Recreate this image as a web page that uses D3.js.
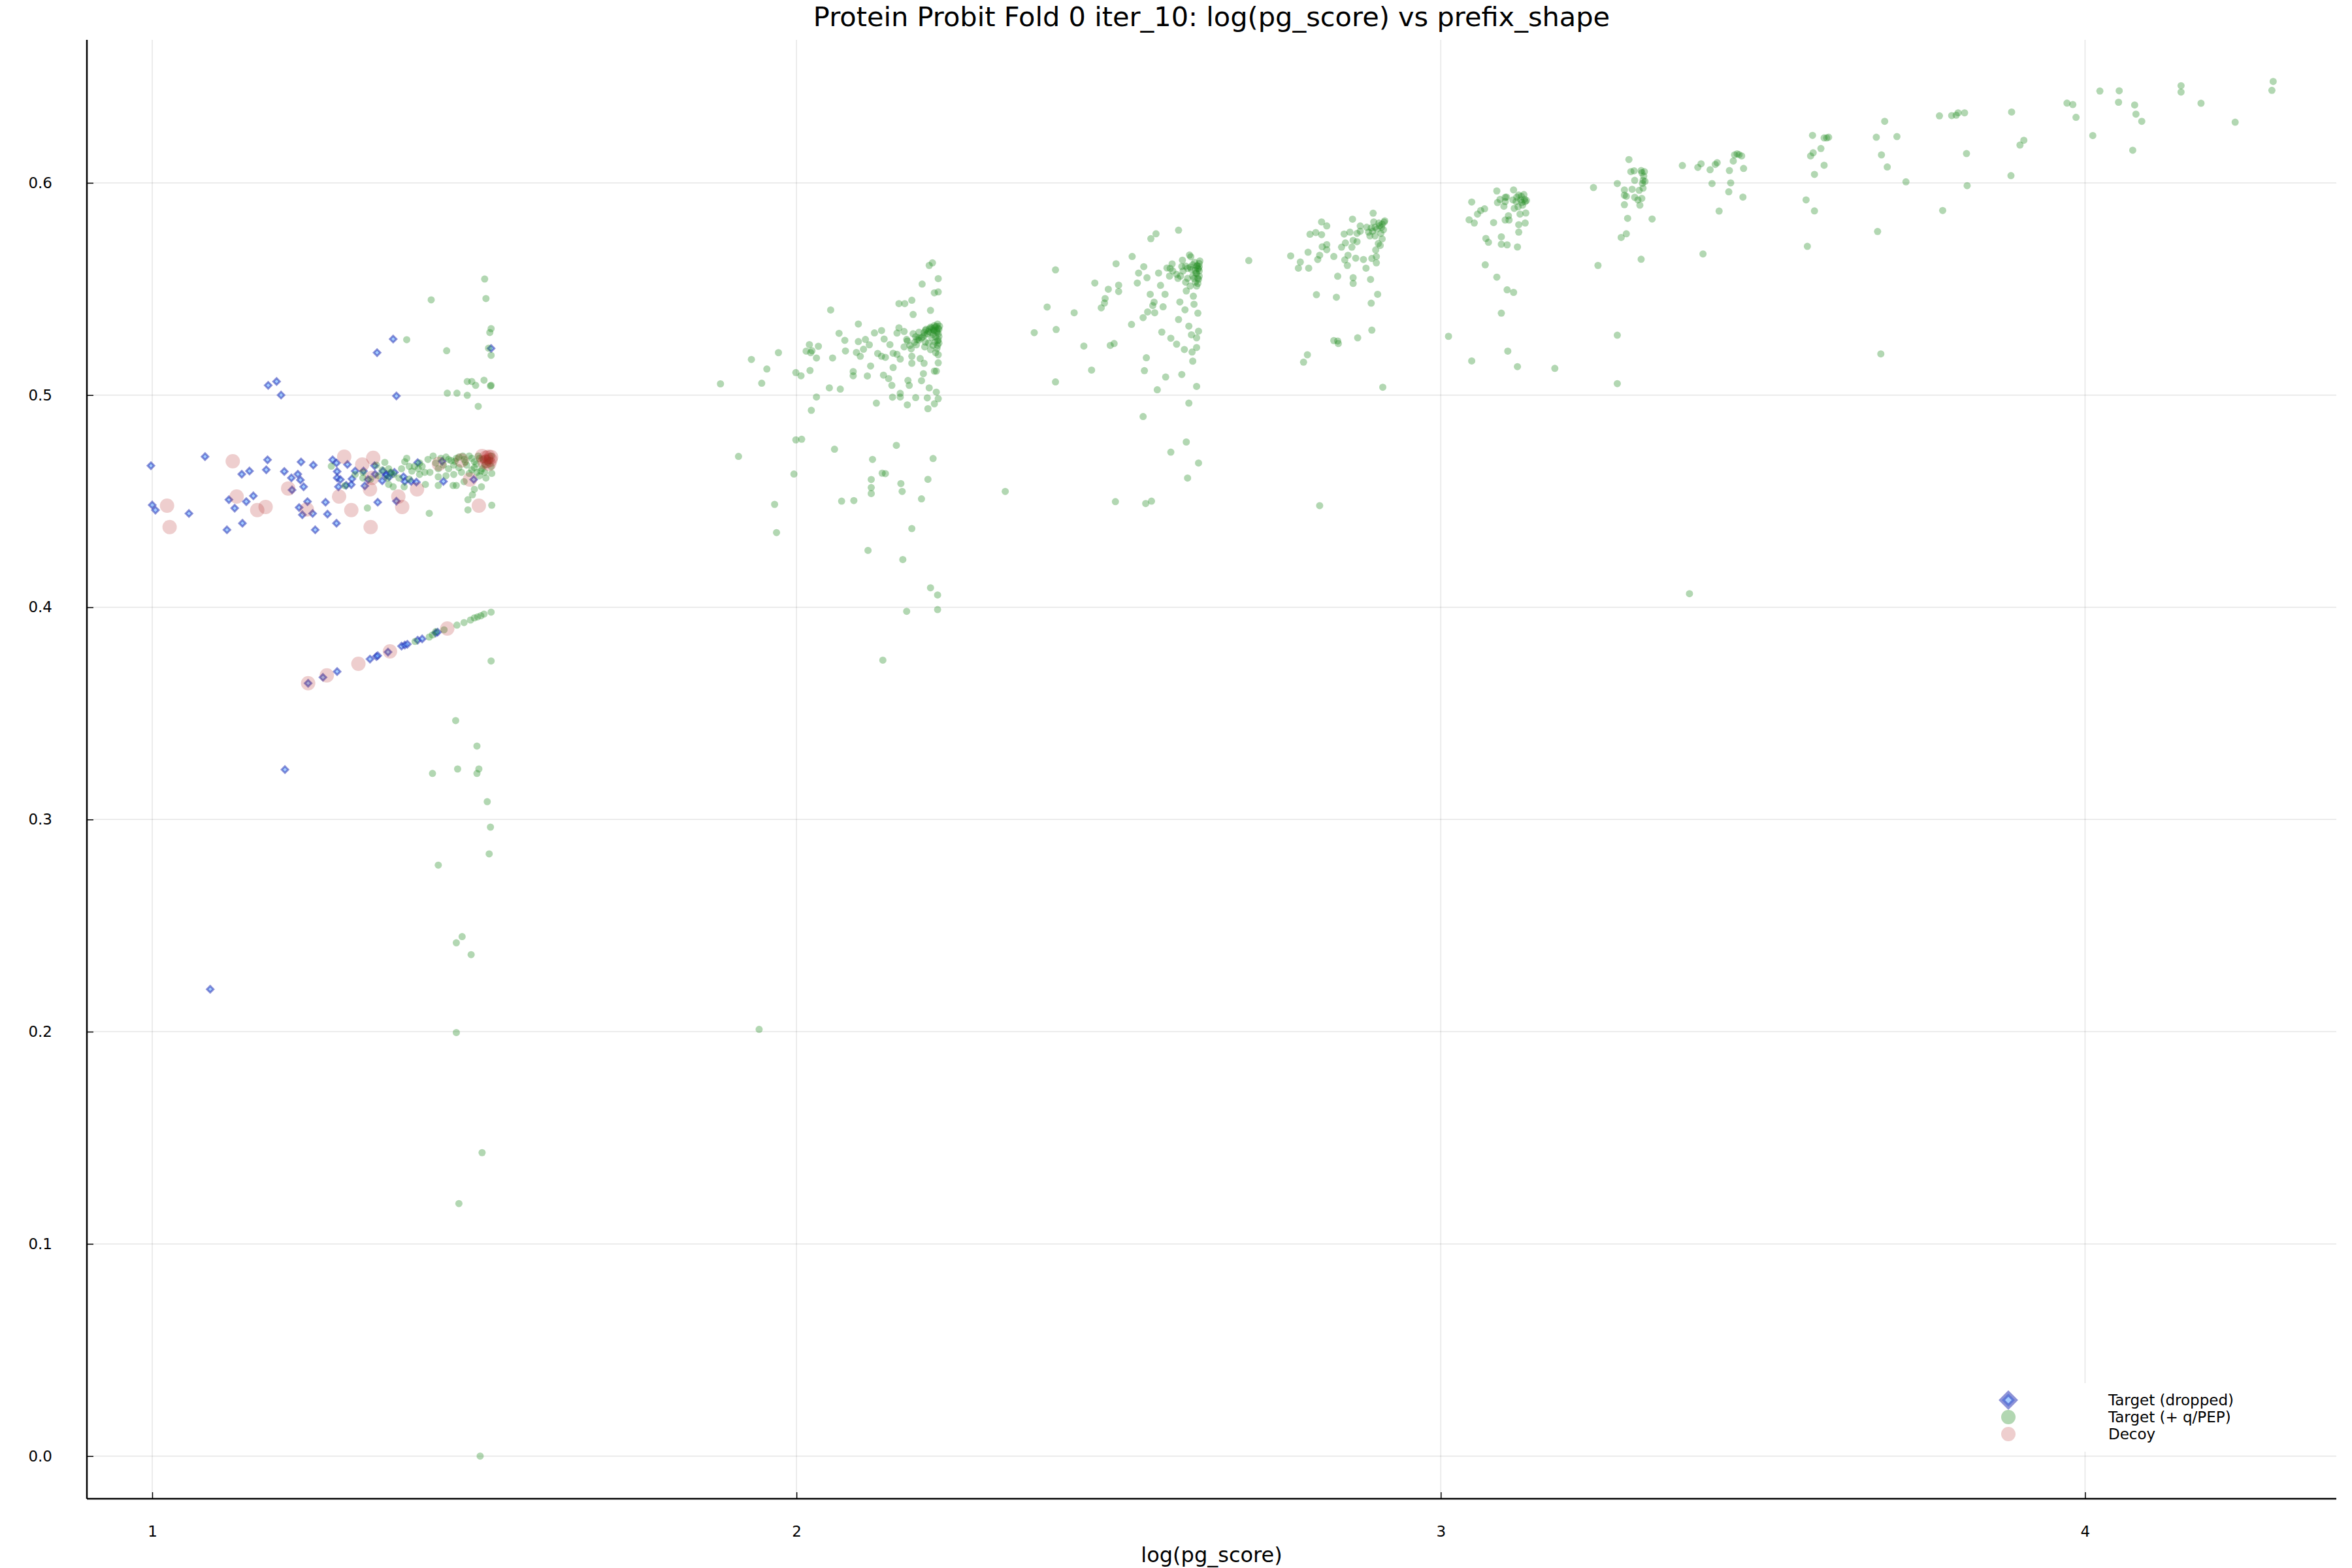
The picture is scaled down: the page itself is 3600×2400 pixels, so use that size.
<!DOCTYPE html>
<html><head><meta charset="utf-8">
<script src="https://cdn.jsdelivr.net/npm/d3@7"></script>
<style>html,body{margin:0;padding:0;background:#fff}svg{display:block}</style>
</head><body>
<script>
const titleText = "Protein Probit Fold 0 iter_10: log(pg_score) vs prefix_shape";
const xLabel = "log(pg_score)";
const xTicks = [1, 2, 3, 4];
const yTicks = [0.0, 0.1, 0.2, 0.3, 0.4, 0.5, 0.6];
const seriesNames = ["Target (dropped)", "Target (+ q/PEP)", "Decoy"];

// Target (dropped): [log(pg_score), prefix_shape]
const dropped = [
[0.998,0.4667],[1.082,0.471],[1.18,0.5046],[1.193,0.5064],[1.20,0.500],[1.349,0.520],[1.374,0.5264],[1.379,0.4996],[1.526,0.522],
[1.139,0.4627],[1.151,0.4642],[1.179,0.4695],[1.177,0.4648],[1.205,0.464],[1.216,0.461],[1.226,0.4627],[1.23,0.46],[1.231,0.4685],
[1.235,0.4568],[1.25,0.467],[1.217,0.4553],[1.28,0.4695],[1.286,0.468],[1.303,0.4673],[1.287,0.464],[1.287,0.461],[1.292,0.4602],
[1.31,0.4605],[1.289,0.4568],[1.301,0.4575],[1.309,0.4578],[1.315,0.4642],[1.328,0.4642],[1.33,0.4572],[1.335,0.4602],[1.345,0.4667],
[1.346,0.4627],[1.358,0.4642],[1.357,0.4596],[1.363,0.4621],[1.376,0.4636],[1.39,0.4615],[1.392,0.4593],[1.402,0.4593],[1.41,0.459],
[1.412,0.4682],[1.452,0.4593],[1.499,0.4602],[1.45,0.4688],[1.364,0.4625],[1.368,0.4615],[1.37,0.4632],
[1.0,0.4482],[1.005,0.4458],[1.057,0.4442],[1.119,0.4507],[1.128,0.4467],[1.146,0.4498],[1.157,0.4525],[1.116,0.4365],[1.14,0.4396],
[1.228,0.447],[1.233,0.4436],[1.241,0.4498],[1.249,0.4442],[1.253,0.4365],[1.269,0.4495],[1.272,0.4439],[1.286,0.4396],[1.35,0.4495],[1.379,0.45],
[1.242,0.3642],[1.265,0.367],[1.287,0.3697],[1.338,0.3756],[1.348,0.3768],[1.35,0.3772],[1.366,0.3789],[1.387,0.3817],[1.392,0.3822],
[1.396,0.3826],[1.412,0.3845],[1.419,0.3851],[1.44,0.3879],[1.443,0.3883],
[1.09,0.22],[1.206,0.3235]
];

// Target (+ q/PEP)
const target = [
[1.516,0.5547],[1.518,0.5455],[1.433,0.5449],[1.526,0.5313],[1.524,0.5295],[1.395,0.5261],[1.522,0.5221],[1.526,0.5187],[1.457,0.5209],
[1.489,0.5064],[1.496,0.5064],[1.502,0.5046],[1.515,0.507],[1.526,0.5046],[1.525,0.5043],[1.458,0.5009],[1.473,0.5009],[1.489,0.4999],[1.506,0.4947],
[1.278,0.4665],[1.334,0.4468],[1.361,0.4683],[1.348,0.467],[1.367,0.4653],[1.387,0.4653],[1.395,0.4702],[1.392,0.4686],[1.403,0.4642],
[1.407,0.4664],[1.413,0.4653],[1.419,0.4664],[1.428,0.4697],[1.436,0.4713],[1.44,0.468],[1.448,0.4702],[1.456,0.4708],[1.464,0.4691],
[1.468,0.467],[1.476,0.4708],[1.484,0.4697],[1.488,0.467],[1.492,0.4713],[1.5,0.4686],[1.508,0.4702],[1.516,0.467],[1.524,0.4691],
[1.526,0.4664],[1.527,0.4631],[1.516,0.4636],[1.504,0.4636],[1.492,0.4631],[1.48,0.4636],[1.468,0.4626],[1.456,0.462],[1.444,0.4615],
[1.431,0.4636],[1.423,0.4636],[1.415,0.4626],[1.399,0.4604],[1.383,0.4609],[1.375,0.4626],[1.365,0.4609],[1.351,0.462],[1.339,0.4604],
[1.327,0.4609],[1.315,0.4626],[1.299,0.4573],[1.367,0.4579],[1.374,0.4568],[1.391,0.4568],[1.424,0.4579],[1.444,0.4574],[1.467,0.4574],
[1.472,0.4574],[1.49,0.4507],[1.497,0.453],[1.5,0.4556],[1.511,0.4568],[1.43,0.4443],[1.49,0.4459],[1.527,0.4481],[1.518,0.4609],
[1.508,0.462],[1.484,0.4592],[1.46,0.4653],[1.452,0.467],[1.444,0.4653],[1.476,0.4658],[1.5,0.4658],[1.512,0.4653],[1.52,0.4702],
[1.526,0.4713],[1.415,0.468],[1.399,0.4664],[1.371,0.4636],[1.357,0.4647],[1.327,0.4636],[1.46,0.4697],[1.472,0.4702],[1.482,0.4713],
[1.496,0.4702],[1.506,0.4713],[1.514,0.4698],[1.521,0.4684],[1.503,0.4675],[1.486,0.4684],[1.47,0.4688],[1.51,0.4642],[1.496,0.4648],
[1.408,0.3839],[1.43,0.386],[1.435,0.387],[1.44,0.3885],[1.453,0.3894],[1.473,0.3916],[1.484,0.3928],[1.494,0.394],[1.5,0.395],
[1.505,0.3955],[1.51,0.396],[1.515,0.3968],[1.526,0.3977],
[1.526,0.3747],[1.471,0.3466],[1.504,0.3346],[1.474,0.3238],[1.435,0.3217],[1.507,0.3238],[1.504,0.3217],[1.52,0.3084],[1.525,0.2964],
[1.523,0.2838],[1.444,0.2785],[1.472,0.2419],[1.481,0.2448],[1.495,0.2363],[1.472,0.1996],[1.512,0.143],[1.476,0.119],[1.509,0.0],
[1.882,0.5053],[1.93,0.5168],[1.946,0.5056],[1.954,0.5123],[1.972,0.52],[1.999,0.5106],[2.007,0.5091],[2.015,0.5207],[2.02,0.5238],
[2.022,0.52],[2.024,0.5209],[2.021,0.5116],[2.031,0.5175],[2.034,0.523],[2.053,0.5401],[2.056,0.5175],[2.066,0.5291],[2.075,0.5258],
[2.076,0.5208],[2.051,0.5034],[2.068,0.5028],[2.031,0.4991],[2.023,0.4928],[2.088,0.5111],[2.088,0.5091],[2.093,0.5201],[2.099,0.5183],
[2.096,0.5252],[2.096,0.5335],[2.107,0.5262],[2.104,0.5216],[2.11,0.509],[2.113,0.5237],[2.115,0.5137],[2.121,0.5293],[2.124,0.4962],
[2.126,0.5196],[2.132,0.5304],[2.132,0.5183],[2.136,0.5264],[2.138,0.5178],[2.135,0.5094],[2.143,0.5078],[2.145,0.5238],[2.148,0.5046],
[2.15,0.513],[2.149,0.499],[2.15,0.5197],[2.156,0.5192],[2.156,0.5292],[2.159,0.5317],[2.159,0.5431],[2.161,0.517],[2.161,0.5008],
[2.161,0.4991],[2.167,0.53],[2.168,0.5431],[2.172,0.5255],[2.173,0.5069],[2.172,0.4954],[2.175,0.5046],[2.178,0.5218],[2.179,0.5447],
[2.181,0.538],[2.181,0.5289],[2.179,0.5183],[2.179,0.515],[2.185,0.4988],[2.186,0.5237],[2.19,0.527],[2.192,0.5172],[2.194,0.5068],
[2.195,0.5523],[2.197,0.5101],[2.198,0.515],[2.199,0.5227],[2.203,0.4987],[2.204,0.4936],[2.206,0.5034],[2.206,0.5611],[2.208,0.5399],
[2.211,0.5623],[2.214,0.5482],[2.214,0.5113],[2.214,0.4959],[2.217,0.5113],[2.217,0.5014],[2.22,0.5549],[2.22,0.5486],[2.22,0.5152],
[2.22,0.4983],[2.216,0.52],[2.22,0.519],[2.219,0.5234],[2.218,0.5296],[2.221,0.531],[2.217,0.5324],[2.212,0.531],[2.208,0.5296],
[2.203,0.5289],[2.199,0.5282],[2.194,0.5269],[2.187,0.5262],[2.183,0.5248],[2.176,0.5234],[2.171,0.5262],[2.167,0.5227],[2.19,0.5296],
[2.201,0.531],[2.21,0.5317],[2.214,0.5303],[2.221,0.5276],[2.219,0.5255],[2.212,0.5234],[2.208,0.5214],
[2.215,0.532],[2.218,0.5305],[2.22,0.529],[2.212,0.5285],[2.205,0.53],[2.2,0.5305],[2.21,0.527],[2.215,0.525],[2.22,0.526],[2.218,0.522],
[2.213,0.5305],[2.208,0.532],[2.196,0.5275],[2.19,0.526],[2.185,0.5275],[2.2,0.525],[2.205,0.5245],[2.22,0.5315],[2.221,0.5245],[2.216,0.5275],
[2.222,0.5325],[2.219,0.5335],[2.214,0.5328],[2.206,0.5312],[2.198,0.5295],
[1.91,0.4711],[1.999,0.4789],[2.008,0.4792],[1.996,0.4628],[1.966,0.4485],[1.969,0.4352],[2.059,0.4745],[2.07,0.45],[2.089,0.4503],
[2.111,0.4268],[2.116,0.4602],[2.116,0.4564],[2.116,0.4536],[2.118,0.4697],[2.133,0.4632],[2.138,0.463],[2.155,0.4763],[2.162,0.4583],
[2.164,0.4546],[2.165,0.4225],[2.171,0.3981],[2.179,0.4371],[2.194,0.4511],[2.204,0.4603],[2.208,0.4092],[2.212,0.4701],[2.219,0.4058],
[2.219,0.3989],[2.134,0.3751],[2.324,0.4546],[1.942,0.2011],
[2.402,0.559],[2.389,0.5415],[2.369,0.5294],[2.403,0.5309],[2.402,0.5062],[2.431,0.5388],[2.446,0.5231],[2.458,0.5118],[2.463,0.5528],
[2.473,0.5411],[2.479,0.5455],[2.478,0.5434],[2.484,0.5499],[2.487,0.5234],[2.493,0.5243],[2.495,0.4498],[2.496,0.5619],[2.5,0.5518],
[2.5,0.5488],[2.52,0.5333],[2.521,0.5653],[2.529,0.5528],[2.531,0.5575],[2.538,0.5365],[2.538,0.4899],[2.539,0.5605],[2.54,0.5115],
[2.542,0.4489],[2.544,0.5553],[2.543,0.5176],[2.545,0.5392],[2.549,0.5475],[2.55,0.5737],[2.551,0.45],[2.553,0.5422],[2.555,0.5438],
[2.556,0.5388],[2.558,0.576],[2.56,0.5025],[2.562,0.5575],[2.565,0.5517],[2.567,0.5297],[2.569,0.5416],[2.572,0.5475],[2.573,0.5085],
[2.575,0.5599],[2.579,0.5561],[2.581,0.5268],[2.581,0.4731],[2.583,0.5618],[2.59,0.524],[2.59,0.5569],[2.593,0.5777],[2.593,0.5356],
[2.595,0.5439],[2.598,0.5097],[2.598,0.5606],[2.599,0.5636],[2.602,0.5215],[2.603,0.5402],[2.605,0.4779],[2.605,0.5491],[2.607,0.4609],
[2.609,0.4962],[2.609,0.5325],[2.61,0.566],[2.612,0.5652],[2.613,0.5284],[2.615,0.516],[2.614,0.5203],[2.616,0.5466],[2.617,0.5428],
[2.621,0.527],[2.621,0.5224],[2.621,0.5041],[2.623,0.5386],[2.624,0.468],[2.624,0.5301],
[2.625,0.562],[2.623,0.5597],[2.621,0.5573],[2.617,0.555],[2.623,0.555],[2.625,0.5585],[2.621,0.5608],[2.615,0.5614],[2.611,0.5603],
[2.607,0.5597],[2.604,0.5608],[2.6,0.5585],[2.596,0.5561],[2.592,0.555],[2.584,0.5585],[2.58,0.5597],[2.615,0.5561],[2.619,0.5532],
[2.623,0.5526],[2.607,0.555],[2.604,0.5532],[2.611,0.5514],[2.625,0.5561],[2.621,0.5514],
[2.622,0.561],[2.624,0.5595],[2.618,0.5625],[2.62,0.5575],[2.625,0.5605],[2.626,0.5632],[2.619,0.5588],[2.613,0.5592],[2.624,0.5545],
[2.702,0.5634],[2.767,0.5656],[2.782,0.5627],[2.779,0.5598],[2.795,0.5598],[2.794,0.5673],[2.797,0.5758],[2.806,0.5766],[2.815,0.5816],
[2.815,0.5756],[2.823,0.5797],[2.807,0.5473],[2.809,0.5639],[2.812,0.5659],[2.816,0.5699],[2.823,0.5709],[2.823,0.5685],[2.834,0.5653],
[2.838,0.5461],[2.84,0.556],[2.793,0.519],[2.787,0.5155],[2.812,0.4479],[2.834,0.5257],[2.84,0.5255],[2.841,0.5243],[2.846,0.5697],
[2.85,0.5759],[2.852,0.5717],[2.851,0.5637],[2.855,0.5611],[2.856,0.5659],[2.859,0.5768],[2.862,0.5697],[2.863,0.5829],[2.864,0.5526],
[2.864,0.5553],[2.864,0.5729],[2.868,0.5645],[2.87,0.5762],[2.87,0.5723],[2.871,0.527],[2.875,0.5797],[2.875,0.5772],[2.88,0.5639],
[2.884,0.5598],[2.885,0.5791],[2.888,0.5768],[2.89,0.575],[2.891,0.5545],[2.892,0.5433],[2.893,0.5306],[2.893,0.5644],[2.895,0.5857],
[2.896,0.5816],[2.898,0.575],[2.899,0.5684],[2.9,0.5623],[2.9,0.5653],[2.902,0.5475],[2.903,0.5714],[2.904,0.5811],[2.906,0.5705],
[2.908,0.5791],[2.909,0.5736],[2.91,0.5037],[2.911,0.5779],[2.912,0.5815],[2.913,0.5821],[2.892,0.5788],[2.898,0.5791],
[2.905,0.5798],[2.909,0.5806],[2.901,0.5782],[2.894,0.5772],[2.907,0.5762],
[3.012,0.5277],[3.048,0.591],[3.048,0.5161],[3.044,0.5826],[3.052,0.5811],[3.057,0.5853],[3.062,0.587],[3.068,0.5878],[3.069,0.5614],
[3.07,0.5738],[3.074,0.572],[3.082,0.5813],[3.087,0.5962],[3.087,0.5556],[3.088,0.5907],[3.092,0.5922],[3.094,0.5746],[3.094,0.5711],
[3.094,0.5386],[3.098,0.589],[3.1,0.5825],[3.1,0.5912],[3.102,0.5933],[3.103,0.5708],[3.103,0.5496],[3.104,0.5207],[3.105,0.5845],
[3.106,0.5825],[3.112,0.592],[3.113,0.5967],[3.113,0.5484],[3.114,0.588],[3.117,0.5912],[3.118,0.5933],[3.119,0.5698],[3.119,0.5134],
[3.12,0.5887],[3.121,0.5803],[3.121,0.5943],[3.123,0.5853],[3.124,0.592],[3.125,0.5937],[3.126,0.5908],[3.127,0.5895],[3.129,0.5945],
[3.13,0.5923],[3.131,0.5912],[3.131,0.5811],[3.132,0.5858],[3.133,0.5917],[3.121,0.5768],[3.1,0.5932],[3.177,0.5126],
[3.237,0.5978],[3.244,0.5611],[3.274,0.5997],[3.274,0.5282],[3.274,0.5054],[3.28,0.5743],[3.285,0.5967],[3.285,0.5942],[3.285,0.5897],
[3.288,0.5937],[3.288,0.576],[3.29,0.5833],[3.292,0.611],[3.295,0.6053],[3.297,0.597],[3.3,0.6057],[3.301,0.6012],[3.301,0.5932],
[3.306,0.592],[3.308,0.5965],[3.309,0.5895],[3.311,0.564],[3.311,0.6058],[3.312,0.6048],[3.313,0.5998],[3.314,0.5975],[3.314,0.6012],
[3.315,0.6032],[3.316,0.6053],[3.317,0.6007],[3.312,0.5927],[3.328,0.583],
[3.375,0.6082],[3.386,0.4064],[3.399,0.6073],[3.404,0.609],[3.407,0.5665],[3.418,0.6062],[3.421,0.5997],[3.426,0.6087],[3.429,0.6095],
[3.432,0.5867],[3.447,0.5958],[3.448,0.6058],[3.45,0.6],[3.454,0.6103],[3.456,0.6132],[3.46,0.6137],[3.463,0.6133],[3.467,0.6127],
[3.469,0.5933],[3.47,0.6068],
[3.567,0.592],[3.569,0.5701],[3.574,0.6127],[3.577,0.6224],[3.578,0.6142],[3.58,0.604],[3.58,0.5868],[3.59,0.6162],[3.595,0.6083],
[3.595,0.6212],[3.599,0.6212],[3.602,0.6215],
[3.676,0.6215],[3.678,0.5771],[3.683,0.5194],[3.684,0.6132],[3.689,0.629],[3.693,0.6075],[3.708,0.6218],[3.722,0.6005],
[3.774,0.6316],[3.793,0.6317],[3.8,0.6319],[3.803,0.633],[3.813,0.633],[3.816,0.6138],[3.817,0.5987],[3.779,0.587],
[3.886,0.6334],[3.905,0.6201],[3.899,0.6178],[3.885,0.6034],[3.972,0.6376],[3.981,0.6369],[3.986,0.6309],[4.012,0.6223],
[4.023,0.6433],[4.053,0.6434],[4.052,0.638],[4.077,0.6367],[4.079,0.6324],[4.088,0.629],[4.074,0.6154],[4.149,0.6458],[4.149,0.6428],
[4.18,0.6375],[4.233,0.6286],[4.292,0.6478],[4.29,0.6436]
];

// Decoy
const decoy = [
[1.125,0.4688],[1.023,0.4479],[1.027,0.4378],[1.131,0.4522],[1.163,0.4458],[1.176,0.4473],[1.211,0.456],[1.24,0.4461],[1.298,0.471],
[1.29,0.4522],[1.309,0.4458],[1.326,0.4673],[1.343,0.4704],[1.338,0.4556],[1.339,0.4378],[1.341,0.461],[1.382,0.4522],[1.388,0.4473],
[1.411,0.4556],[1.445,0.4676],[1.493,0.4602],[1.507,0.4479],[1.48,0.4692],[1.512,0.4713],[1.518,0.4705],[1.522,0.471],[1.525,0.4695],
[1.523,0.4676],[1.52,0.469],[1.526,0.4708],[1.516,0.4685],
[1.242,0.3642],[1.271,0.3679],[1.32,0.3734],[1.369,0.3792],[1.458,0.39]
];

const W = 3600, H = 2400;
const svg = d3.select("body").append("svg").attr("width", W).attr("height", H)
  .style("font-family", "'DejaVu Sans', sans-serif");
svg.append("rect").attr("width", W).attr("height", H).attr("fill", "#fff");

const pL = 133, pR = 3576, pT = 61, pB = 2294;
const x = d3.scaleLinear().domain([0.8986, 4.390]).range([pL, pR]);
const y = d3.scaleLinear().domain([-0.0201, 0.6674]).range([pB, pT]);

const grid = svg.append("g");
grid.selectAll(".gx").data(xTicks).enter().append("line")
  .attr("x1", d => x(d)).attr("x2", d => x(d)).attr("y1", pT).attr("y2", pB)
  .attr("stroke", "#000").attr("stroke-opacity", 0.1).attr("stroke-width", 1.5);
grid.selectAll(".gy").data(yTicks).enter().append("line")
  .attr("y1", d => y(d)).attr("y2", d => y(d)).attr("x1", pL).attr("x2", pR)
  .attr("stroke", "#000").attr("stroke-opacity", 0.1).attr("stroke-width", 1.5);

const xAxis = d3.axisBottom(x).tickValues(xTicks).tickFormat(d3.format("d")).tickSizeInner(-10).tickSizeOuter(0).tickPadding(42);
const yAxis = d3.axisLeft(y).tickValues(yTicks).tickFormat(d3.format(".1f")).tickSizeInner(-10).tickSizeOuter(0).tickPadding(53);
const gx = svg.append("g").attr("transform", `translate(0,${pB})`).call(xAxis);
const gy = svg.append("g").attr("transform", `translate(${pL},0)`).call(yAxis);
[gx, gy].forEach(g => {
  g.select(".domain").remove();
  g.selectAll(".tick line").attr("stroke", "#000").attr("stroke-width", 1.5);
  g.selectAll(".tick text").attr("font-size", 23).attr("fill", "#000").attr("font-family", "'DejaVu Sans', sans-serif");
});
svg.append("line").attr("x1", pL).attr("x2", pR).attr("y1", pB).attr("y2", pB).attr("stroke", "#000").attr("stroke-width", 2.5);
svg.append("line").attr("x1", pL).attr("x2", pL).attr("y1", pT).attr("y2", pB).attr("stroke", "#000").attr("stroke-width", 2.5);

const plot = svg.append("g");
const diamond = (r) => `M0,${-r}L${r},0L0,${r}L${-r},0Z`;

plot.selectAll(".dr").data(dropped).enter().append("path")
  .attr("d", diamond(5))
  .attr("transform", d => `translate(${x(d[0])},${y(d[1])})`)
  .attr("fill", "rgb(90,160,255)").attr("fill-opacity", 0.55)
  .attr("stroke", "rgb(30,40,175)").attr("stroke-opacity", 0.5).attr("stroke-width", 3);

plot.selectAll(".tg").data(target).enter().append("circle")
  .attr("cx", d => x(d[0])).attr("cy", d => y(d[1])).attr("r", 5.5)
  .attr("fill", "rgb(34,139,34)").attr("fill-opacity", 0.35);

plot.selectAll(".dc").data(decoy).enter().append("circle")
  .attr("cx", d => x(d[0])).attr("cy", d => y(d[1])).attr("r", 11)
  .attr("fill", "rgb(178,34,34)").attr("fill-opacity", 0.22);

svg.append("text").attr("x", (pL + pR) / 2).attr("y", 40).attr("text-anchor", "middle")
  .attr("font-size", 41.5).attr("fill", "#000").text(titleText);
svg.append("text").attr("x", (pL + pR) / 2).attr("y", 2391).attr("text-anchor", "middle")
  .attr("font-size", 32).attr("fill", "#000").text(xLabel);

const lg = svg.append("g");
lg.append("rect").attr("x", 2990).attr("y", 2117).attr("width", 570).attr("height", 105).attr("fill", "#fff");
const rows = [2143, 2169, 2195];
const mx = 3074, tx = 3227;
lg.append("path").attr("d", diamond(10)).attr("transform", `translate(${mx},${rows[0]})`)
  .attr("fill", "rgb(90,160,255)").attr("fill-opacity", 0.55)
  .attr("stroke", "rgb(30,40,175)").attr("stroke-opacity", 0.5).attr("stroke-width", 7);
lg.append("circle").attr("cx", mx).attr("cy", rows[1]).attr("r", 11)
  .attr("fill", "rgb(34,139,34)").attr("fill-opacity", 0.35);
lg.append("circle").attr("cx", mx).attr("cy", rows[2]).attr("r", 11)
  .attr("fill", "rgb(178,34,34)").attr("fill-opacity", 0.22);
lg.selectAll(".lt").data(seriesNames).enter().append("text")
  .attr("x", tx).attr("y", (d, i) => rows[i] + 8).attr("font-size", 23).attr("fill", "#000").text(d => d);
</script>
</body></html>
